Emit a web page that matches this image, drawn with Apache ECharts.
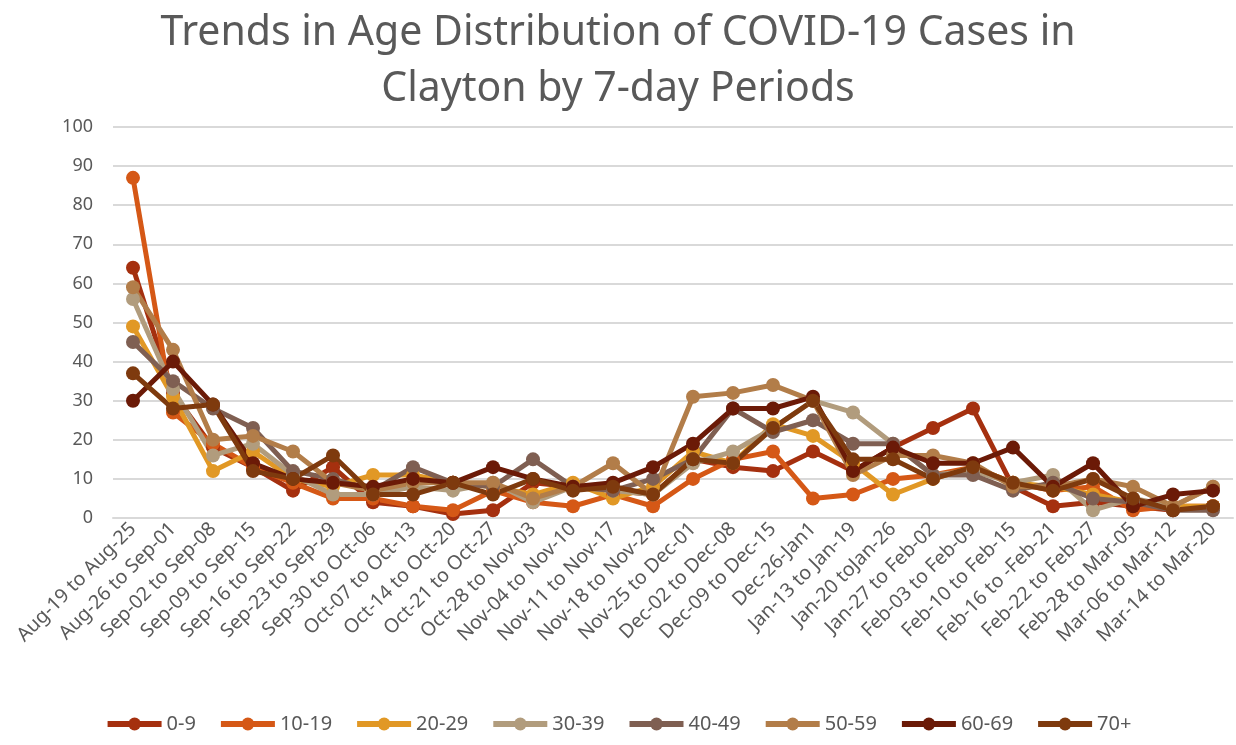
<!DOCTYPE html>
<html>
<head>
<meta charset="utf-8">
<script src="https://cdn.jsdelivr.net/npm/echarts@6/dist/echarts.min.js"></script>
<style>html,body{margin:0;padding:0;background:#fff}#c{width:1236px;height:745px}</style>
</head>
<body>
<div id="c"></div>
<script>
const categories = ["Aug-19 to Aug-25","Aug-26 to Sep-01","Sep-02 to Sep-08","Sep-09 to Sep-15","Sep-16 to Sep-22","Sep-23 to Sep-29","Sep-30 to Oct-06","Oct-07 to Oct-13","Oct-14 to Oct-20","Oct-21 to Oct-27","Oct-28 to Nov-03","Nov-04 to Nov-10","Nov-11 to Nov-17","Nov-18 to Nov-24","Nov-25 to Dec-01","Dec-02 to Dec-08","Dec-09 to Dec-15","Dec-26-Jan1","Jan-13 to Jan-19","Jan-20 toJan-26","Jan-27 to Feb-02","Feb-03 to Feb-09","Feb-10 to Feb-15","Feb-16 to -Feb-21","Feb-22 to Feb-27","Feb-28 to Mar-05","Mar-06 to Mar-12","Mar-14 to Mar-20"];
const age0_9   = [64,32,18,13,7,13,4,3,1,2,9,8,7,6,15,13,12,17,12,18,23,28,8,3,4,3,2,3];
const age10_19 = [87,27,19,13,9,5,5,3,2,7,4,3,6,3,10,15,17,5,6,10,11,13,9,7,8,2,3,3];
const age20_29 = [49,31,12,17,10,8,11,11,9,8,6,9,5,8,17,14,24,21,14,6,10,13,9,8,6,4,3,3];
const age30_39 = [56,33,16,19,11,6,6,8,7,9,4,8,7,6,14,17,23,30,27,19,11,12,9,11,2,5,3,8];
const age40_49 = [45,35,28,23,12,10,7,13,9,8,15,8,7,10,15,28,22,25,19,19,11,11,7,9,5,4,2,2];
const age50_59 = [59,43,20,21,17,9,7,9,9,9,5,8,14,6,31,32,34,30,11,16,16,14,8,8,10,8,3,8];
const age60_69 = [30,40,29,14,10,9,8,10,9,13,10,8,9,13,19,28,28,31,12,18,14,14,18,8,14,3,6,7];
const age70p   = [37,28,29,12,10,16,6,6,9,6,10,7,8,6,15,14,23,30,15,15,10,13,9,7,10,5,2,3];
const yTicks = [0,10,20,30,40,50,60,70,80,90,100];

const names = ["0-9","10-19","20-29","30-39","40-49","50-59","60-69","70+"];
const values = [age0_9,age10_19,age20_29,age30_39,age40_49,age50_59,age60_69,age70p];
const colors = ["#A5300F","#D55816","#E19825","#B19C7D","#7F5F52","#B27D49","#6B1A07","#7E3A0E"];

const chart = echarts.init(document.getElementById('c'));
chart.setOption({
  animation:false,
  backgroundColor:'#fff',
  color:colors,
  title:{
    text:'Trends in Age Distribution of COVID-19 Cases in\nClayton by 7-day Periods',
    left:'center', top:0,
    textStyle:{fontFamily:'Noto Sans', fontSize:41, fontWeight:'normal', color:'#595959', lineHeight:56}
  },
  legend:{
    bottom:6, left:'center', itemWidth:54, itemHeight:16, itemGap:22,
    lineStyle:{width:6},
    textStyle:{fontFamily:'Noto Sans', fontSize:20, color:'#595959'},
    data:names
  },
  grid:{left:113, right:3, top:127, bottom:227, containLabel:false},
  xAxis:{
    type:'category', data:categories, boundaryGap:true,
    axisLine:{show:true, lineStyle:{color:'#d9d9d9', width:2}},
    axisTick:{show:false},
    axisLabel:{rotate:45, interval:0, fontFamily:'Noto Sans', fontSize:19.5, color:'#595959', margin:8}
  },
  yAxis:{
    type:'value', min:yTicks[0], max:yTicks[yTicks.length-1], interval:10,
    axisLine:{show:false}, axisTick:{show:false},
    splitLine:{lineStyle:{color:'#d9d9d9', width:2}},
    axisLabel:{fontFamily:'Noto Sans', fontSize:18, color:'#595959', margin:20}
  },
  series: names.map((n,i)=>({
    name:n, type:'line', data:values[i],
    symbol:'circle', symbolSize:14,
    lineStyle:{width:5, color:colors[i]},
    itemStyle:{color:colors[i]}
  }))
});
</script>
</body>
</html>
